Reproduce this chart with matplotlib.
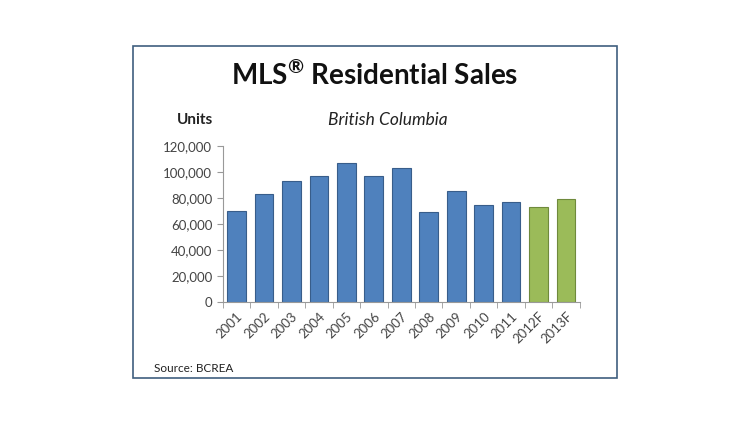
import matplotlib.pyplot as plt
from matplotlib.patches import Rectangle
import numpy as np

years = ["2001", "2002", "2003", "2004", "2005", "2006", "2007",
         "2008", "2009", "2010", "2011", "2012F", "2013F"]
sales = [69700, 82800, 93200, 96800, 106600, 96800, 103500,
         69200, 85500, 74600, 77200, 73300, 79000]
forecast = [False] * 11 + [True, True]

plt.rcParams['font.family'] = ['Lato', 'DejaVu Sans']
plt.rcParams['mathtext.fontset'] = 'custom'
plt.rcParams['mathtext.rm'] = 'Lato:bold'
plt.rcParams['mathtext.it'] = 'Lato:bold'

fig = plt.figure(figsize=(7.5, 4.21), dpi=100)
fig.patches.append(Rectangle((0.177, 0.102), 0.646, 0.789, transform=fig.transFigure,
                             fill=False, edgecolor="#3f5f7f", linewidth=1.2))

ax = fig.add_axes([0.297, 0.283, 0.476, 0.370])
x = np.arange(len(years))
colors = ["#9bbb59" if f else "#4f81bd" for f in forecast]
edges = ["#6f8a3c" if f else "#385d8a" for f in forecast]
ax.bar(x, sales, 0.68, color=colors, edgecolor=edges, linewidth=0.8)

ax.set_xlim(-0.5, len(years) - 0.5)
ax.set_ylim(0, 120000)
ax.set_yticks(range(0, 120001, 20000))
ax.set_yticklabels(["{:,}".format(v) for v in range(0, 120001, 20000)], fontsize=9.5, color="#444444")
ax.set_xticks(x)
ax.set_xticklabels(years, rotation=45, ha="right", rotation_mode="anchor", fontsize=9.5, color="#444444")
ax.tick_params(axis="x", length=0, pad=6)
ax.set_xticks(np.arange(-0.5, len(years)), minor=True)
ax.tick_params(axis="x", which="minor", length=4, color="#999999")
ax.tick_params(axis="y", length=4, color="#999999")
for s in ["top", "right"]:
    ax.spines[s].set_visible(False)
for s in ["left", "bottom"]:
    ax.spines[s].set_color("#999999")

fig.text(0.5, 0.822, r"MLS$^{\mathrm{®}}$ Residential Sales", ha="center", va="center",
         fontsize=20, fontweight="bold", color="#111111")
fig.text(0.517, 0.715, "British Columbia", ha="center", va="center", fontsize=12.5, style="italic", color="#222222")
fig.text(0.26, 0.715, "Units", ha="center", va="center", fontsize=11, fontweight="bold", color="#222222")
fig.text(0.205, 0.125, "Source: BCREA", ha="left", va="center", fontsize=8.5, color="#222222")

fig.savefig("out.png", dpi=100)
